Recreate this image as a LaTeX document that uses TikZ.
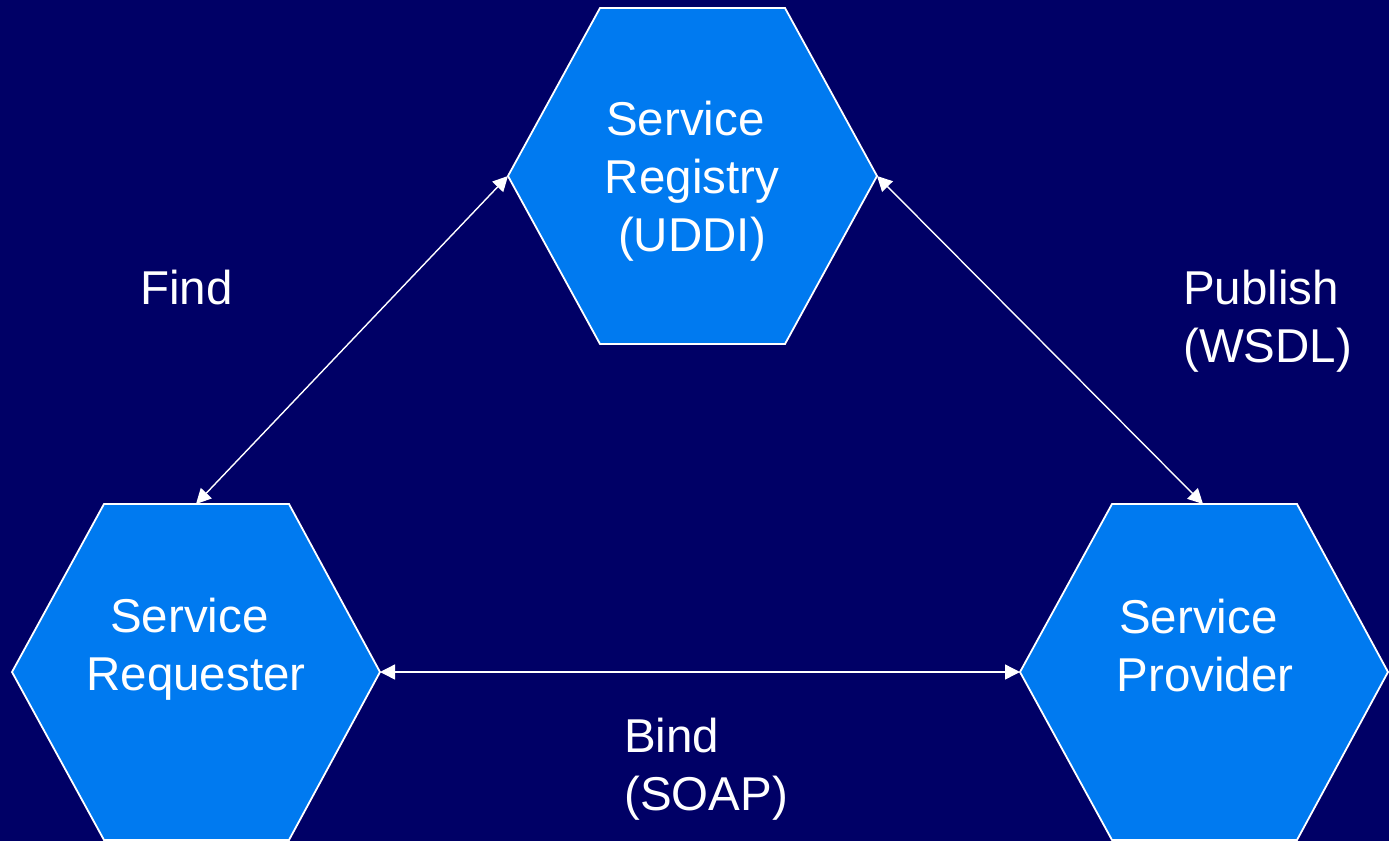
\documentclass[tikz,border=0pt]{standalone}
\usepackage{fontspec}
\setmainfont{Liberation Sans}
\usetikzlibrary{arrows.meta}
\definecolor{bgnavy}{RGB}{0,0,102}
\definecolor{hexblue}{RGB}{0,122,240}
\tikzset{
  hexshape/.style={fill=hexblue, draw=white, line width=1.8pt, line join=miter},
  conn/.style={draw=white, line width=1.4pt, {Triangle[length=15pt,width=15pt]}-{Triangle[length=15pt,width=15pt]}},
  lbl/.style={text=white, inner sep=0pt, font=\fontsize{47.5}{58}\selectfont},
}
\newcommand{\trsp}{\hphantom{\ }}
\begin{document}
\begin{tikzpicture}[x=1pt,y=-1pt]
\fill[bgnavy] (0,0) rectangle (1389,841);
\useasboundingbox (0,0) rectangle (1389,841);
% Registry hexagon
\coordinate (reg-nw) at (600,8);
\coordinate (reg-ne) at (785,8);
\coordinate (reg-e) at (877,176);
\coordinate (reg-se) at (785,344);
\coordinate (reg-sw) at (600,344);
\coordinate (reg-w) at (508,176);
\path[hexshape] (reg-nw) -- (reg-ne) -- (reg-e) -- (reg-se) -- (reg-sw) -- (reg-w) -- cycle;
% Requester hexagon
\coordinate (req-nw) at (104,504);
\coordinate (req-ne) at (289,504);
\coordinate (req-e) at (380,672);
\coordinate (req-se) at (289,840);
\coordinate (req-sw) at (104,840);
\coordinate (req-w) at (12,672);
\coordinate (req-n) at (196,504);
\path[hexshape] (req-nw) -- (req-ne) -- (req-e) -- (req-se) -- (req-sw) -- (req-w) -- cycle;
% Provider hexagon
\coordinate (prov-nw) at (1112,504);
\coordinate (prov-ne) at (1297,504);
\coordinate (prov-e) at (1388,672);
\coordinate (prov-se) at (1297,840);
\coordinate (prov-sw) at (1112,840);
\coordinate (prov-w) at (1020,672);
\coordinate (prov-n) at (1203,504);
\path[hexshape] (prov-nw) -- (prov-ne) -- (prov-e) -- (prov-se) -- (prov-sw) -- (prov-w) -- cycle;
% Texts (base anchor = baseline of last line)
\node[lbl, anchor=base, align=center] (regtext) at (692,251) {Service\trsp\\Registry\\(UDDI)};
\node[lbl, anchor=base, align=center] (reqtext) at (196,690) {Service\trsp\\Requester};
\node[lbl, anchor=base, align=center] (provtext) at (1205,691) {Service\trsp\\Provider};
\node[lbl, anchor=base west] (find) at (140,304) {Find};
\node[lbl, anchor=base west, align=left] (publish) at (1183,362) {Publish\\(WSDL)};
\node[lbl, anchor=base west, align=left] (bind) at (624,810) {Bind\\(SOAP)};
% Connectors
\draw[conn] (reg-w) -- (req-n);
\draw[conn] (reg-e) -- (prov-n);
\draw[conn] (req-e) -- (prov-w);
\end{tikzpicture}
\end{document}
